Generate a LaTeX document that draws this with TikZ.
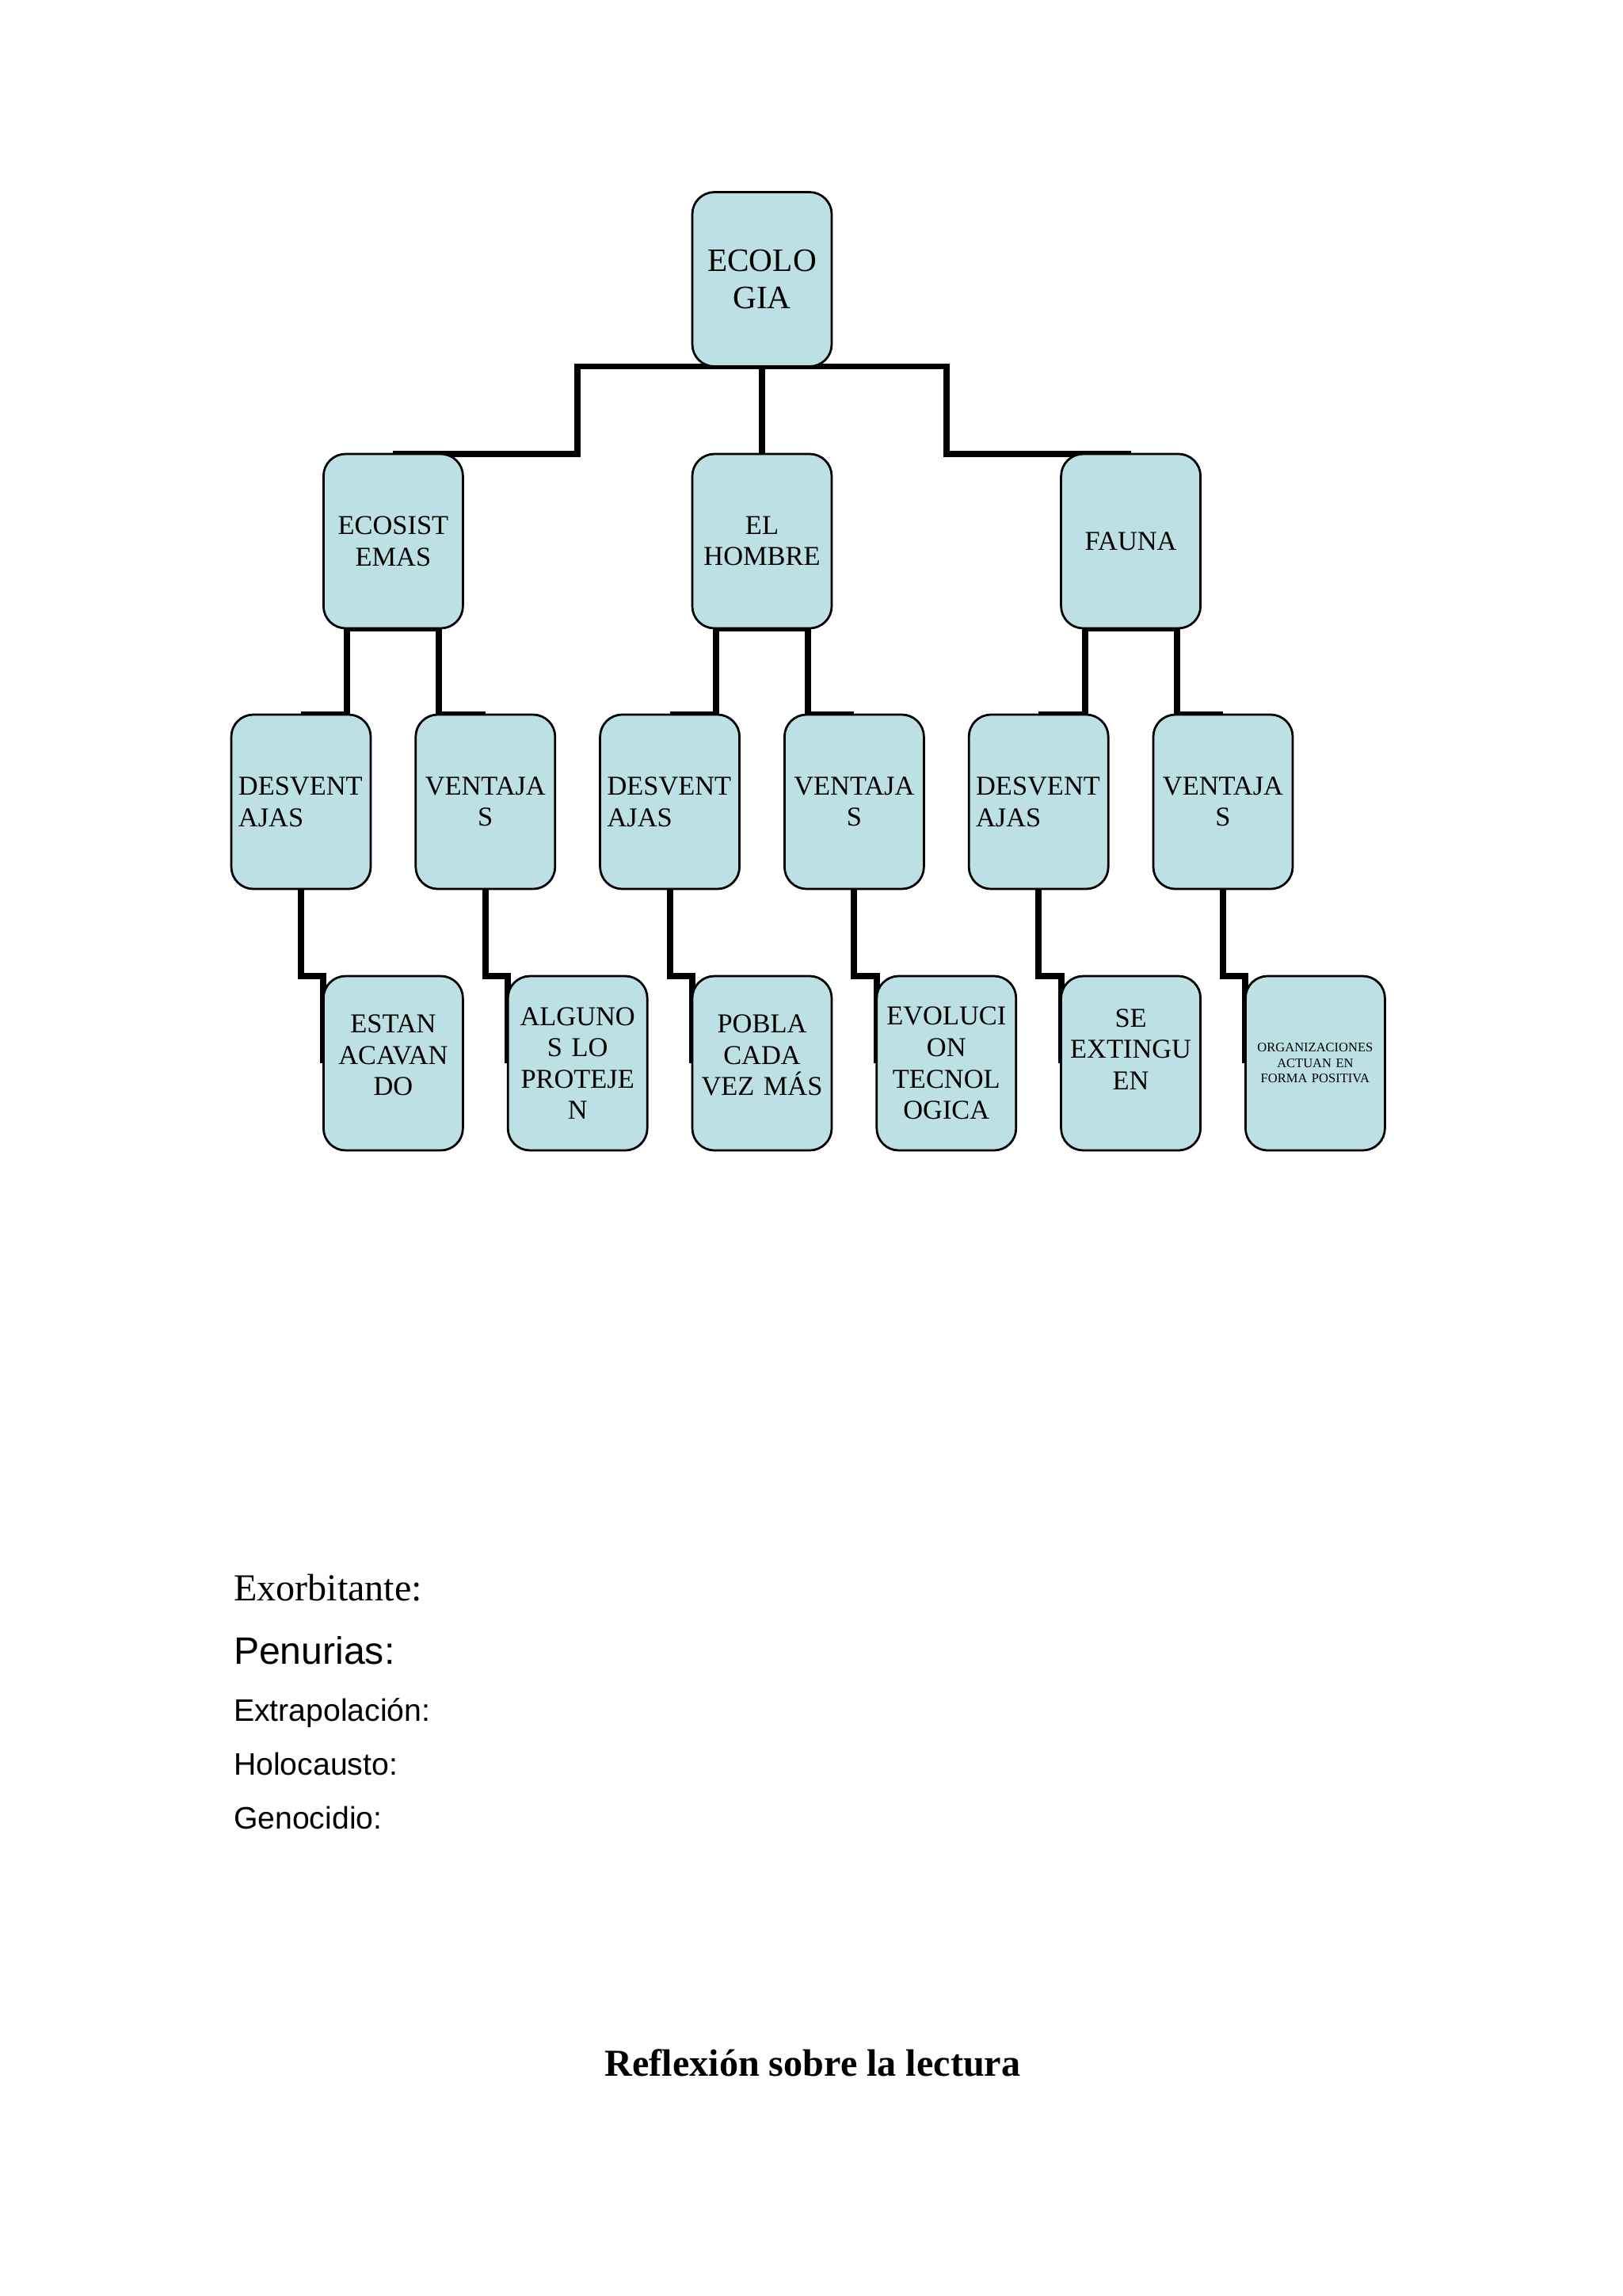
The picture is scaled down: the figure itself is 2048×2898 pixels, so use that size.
\documentclass[tikz,border=0pt]{standalone}
\usepackage{fontspec}
\setmainfont{Liberation Serif}
\newfontfamily\arialfont{Liberation Sans}
\usetikzlibrary{backgrounds}
\definecolor{boxfill}{RGB}{188,224,227}
\begin{document}
\begin{tikzpicture}[x=0.290662pt, y=-0.290662pt,
  box/.style={draw=black, line width=0.8pt, fill=boxfill, rounded corners=8.1pt,
    minimum width=51.16pt, minimum height=63.95pt, inner sep=0pt, outer sep=0pt,
    text width=51pt, align=center, font=\fontsize{10}{11.5}\selectfont},
  boxl/.style={box, text width=45.96pt, align=left},
  conn/.style={draw=black, line width=2.3pt, line join=miter},
  lbl/.style={anchor=base west, inner sep=0pt, outer sep=0pt}]
\useasboundingbox (0,0) rectangle (2048,2898);
% level 1
\node[box, font=\fontsize{12}{13.9}\selectfont] (eco) at (962,352.5) {ECOLO\\GIA};
% level 2
\node[box] (ecs) at (496.4,683) {ECOSIST\\EMAS};
\node[box] (hom) at (962,683) {EL\\HOMBRE};
\node[box] (fau) at (1427.6,683) {FAUNA};
% level 3
\node[boxl] (d1) at (380,1012) {DESVENT\\AJAS};
\node[box]  (v1) at (612.8,1012) {VENTAJA\\S};
\node[boxl] (d2) at (845.6,1012) {DESVENT\\AJAS};
\node[box]  (v2) at (1078.4,1012) {VENTAJA\\S};
\node[boxl] (d3) at (1311.2,1012) {DESVENT\\AJAS};
\node[box]  (v3) at (1544,1012) {VENTAJA\\S};
% level 4
\node[box] (c1) at (496.4,1342) {ESTAN\\ACAVAN\\DO\\[-5.7pt]\mbox{}};
\node[box] (c2) at (729.2,1342) {ALGUNO\\S LO\\PROTEJE\\N};
\node[box] (c3) at (962,1342) {POBLA\\CADA\\VEZ MÁS\\[-5.7pt]\mbox{}};
\node[box] (c4) at (1194.8,1342) {EVOLUCI\\ON\\TECNOL\\OGICA};
\node[box] (c5) at (1427.6,1342) {SE\\EXTINGU\\EN\\[-1.3pt]\mbox{}};
\node[box, font=\fontsize{4.8}{5.7}\selectfont] (c6) at (1660.4,1342) {ORGANIZACIONES\\ACTUAN EN\\FORMA POSITIVA};
% connectors
\begin{pgfonlayer}{background}
\draw[conn] (eco.south) -- (hom.north);
\draw[conn] (eco.south) -- ++(-232.8,0) |- (ecs.north);
\draw[conn] (eco.south) -- ++(232.8,0) |- (fau.north);
\draw[conn] (ecs.south) -- ++(-58,0) |- (d1.north);
\draw[conn] (ecs.south) -- ++(58,0) |- (v1.north);
\draw[conn] (hom.south) -- ++(-58,0) |- (d2.north);
\draw[conn] (hom.south) -- ++(58,0) |- (v2.north);
\draw[conn] (fau.south) -- ++(-58,0) |- (d3.north);
\draw[conn] (fau.south) -- ++(58,0) |- (v3.north);
\draw[conn] (d1.south) |- (c1.north west) -- (c1.west);
\draw[conn] (v1.south) |- (c2.north west) -- (c2.west);
\draw[conn] (d2.south) |- (c3.north west) -- (c3.west);
\draw[conn] (v2.south) |- (c4.north west) -- (c4.west);
\draw[conn] (d3.south) |- (c5.north west) -- (c5.west);
\draw[conn] (v3.south) |- (c6.north west) -- (c6.west);
\end{pgfonlayer}
% texts below
\node[lbl, font=\fontsize{14}{16}\selectfont] (t1) at (295,2020) {Exorbitante:};
\node[lbl, font=\arialfont\fontsize{14}{16}\selectfont] (t2) at (295,2100) {Penurias:};
\node[lbl, font=\arialfont\fontsize{11.4}{13}\selectfont] (t3) at (295,2172) {Extrapolación:};
\node[lbl, font=\arialfont\fontsize{11.4}{13}\selectfont] (t4) at (295,2240) {Holocausto:};
\node[lbl, font=\arialfont\fontsize{11.4}{13}\selectfont] (t5) at (295,2308) {Genocidio:};
\node[anchor=base, inner sep=0pt, font=\bfseries\fontsize{14}{16}\selectfont] (t6) at (1026,2620) {Reflexión sobre la lectura};
\end{tikzpicture}
\end{document}
